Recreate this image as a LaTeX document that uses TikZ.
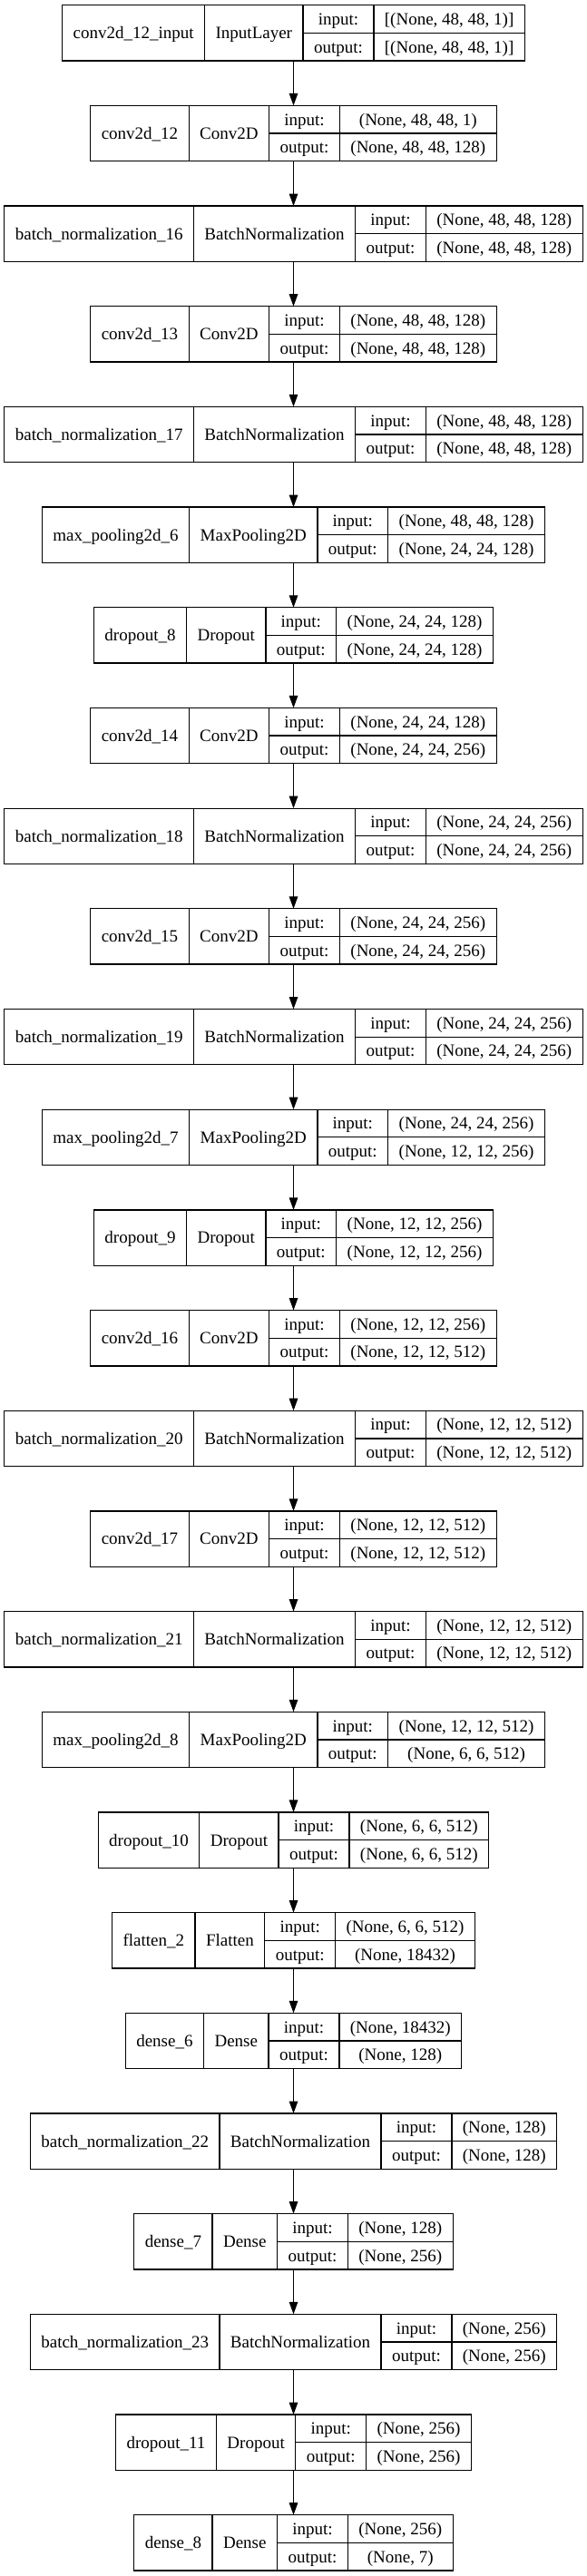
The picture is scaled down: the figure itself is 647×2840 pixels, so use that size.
\documentclass[tikz,border=0pt]{standalone}
\usepackage{fontspec}
\setmainfont{Liberation Serif}
\usetikzlibrary{arrows.meta}
\newdimen\lwa \newdimen\lwb \newdimen\lwc \newdimen\lwd \newdimen\lwt \newdimen\lws
\newdimen\lxA \newdimen\lxB \newdimen\lxC \newdimen\lxD \newdimen\lxE
\newdimen\lca \newdimen\lcb \newdimen\lcc \newdimen\lcd
\newcommand\lytxt[1]{\normalfont\fontsize{19}{22}\selectfont #1}
\tikzset{
  boxline/.style={draw=black, line width=1.3pt},
  layerbox/.style={boxline, rectangle, inner sep=0pt, outer sep=0pt, minimum height=61.3pt},
  lbl/.style={inner sep=0pt, font=\fontsize{19}{22}\selectfont, text height=12.8pt, text depth=0pt, anchor=center},
  arr/.style={draw=black, line width=1.3pt, -{Triangle[length=13.5pt,width=9.5pt]}},
}
% #1 index, #2 layer name, #3 class, #4 input shape, #5 output shape
\newcommand\layer[5]{%
  \pgfinterruptpicture
  \setbox0=\hbox{\lytxt{#2}}\global\lwa=\wd0
  \setbox0=\hbox{\lytxt{#3}}\global\lwb=\wd0
  \setbox0=\hbox{\lytxt{output:}}\global\lwc=\wd0
  \setbox0=\hbox{\lytxt{#4}}\global\lwd=\wd0
  \setbox0=\hbox{\lytxt{#5}}\global\lwt=\wd0
  \endpgfinterruptpicture
  \ifdim\lwt>\lwd \lwd=\lwt \fi
  \advance\lwa by 24pt
  \advance\lwb by 24pt
  \advance\lwc by 24pt
  \advance\lwd by 24pt
  \lws=\dimexpr\lwa+\lwb+\lwc+\lwd\relax
  \lxA=\dimexpr323.5pt-\lws/2\relax
  \lxB=\dimexpr\lxA+\lwa\relax
  \lxC=\dimexpr\lxB+\lwb\relax
  \lxD=\dimexpr\lxC+\lwc\relax
  \lxE=\dimexpr\lxD+\lwd\relax
  \lca=\dimexpr(\lxA+\lxB)/2\relax
  \lcb=\dimexpr(\lxB+\lxC)/2\relax
  \lcc=\dimexpr(\lxC+\lxD)/2\relax
  \lcd=\dimexpr(\lxD+\lxE)/2\relax
  \pgfmathsetmacro\lyT{-(5.7+110.68*#1)}%
  \pgfmathsetmacro\lyM{\lyT-30.65}%
  \pgfmathsetmacro\lyBot{\lyT-61.3}%
  \pgfmathsetmacro\lyRa{\lyT-15.325}%
  \pgfmathsetmacro\lyRb{\lyT-45.975}%
  \node[layerbox, minimum width=\the\lws, anchor=north] (L#1) at (323.5pt,\lyT pt) {};
  \draw[boxline] (\the\lxB,\lyT pt) -- (\the\lxB,\lyBot pt);
  \draw[boxline] (\the\lxC,\lyT pt) -- (\the\lxC,\lyBot pt);
  \draw[boxline] (\the\lxD,\lyT pt) -- (\the\lxD,\lyBot pt);
  \draw[boxline] (\the\lxC,\lyM pt) -- (\the\lxE,\lyM pt);
  \node[lbl] (L#1n) at (\the\lca,\lyM pt) {#2};
  \node[lbl] (L#1c) at (\the\lcb,\lyM pt) {#3};
  \node[lbl] (L#1i) at (\the\lcc,\lyRa pt) {input:};
  \node[lbl] (L#1o) at (\the\lcc,\lyRb pt) {output:};
  \node[lbl] (L#1is) at (\the\lcd,\lyRa pt) {#4};
  \node[lbl] (L#1os) at (\the\lcd,\lyRb pt) {#5};
}
\begin{document}
\begin{tikzpicture}
\fill[white] (0pt,0pt) rectangle (647pt,-2840pt);
\useasboundingbox (0pt,0pt) rectangle (647pt,-2840pt);
\layer{0}{conv2d\_12\_input}{InputLayer}{[(None, 48, 48, 1)]}{[(None, 48, 48, 1)]}
\layer{1}{conv2d\_12}{Conv2D}{(None, 48, 48, 1)}{(None, 48, 48, 128)}
\layer{2}{batch\_normalization\_16}{BatchNormalization}{(None, 48, 48, 128)}{(None, 48, 48, 128)}
\layer{3}{conv2d\_13}{Conv2D}{(None, 48, 48, 128)}{(None, 48, 48, 128)}
\layer{4}{batch\_normalization\_17}{BatchNormalization}{(None, 48, 48, 128)}{(None, 48, 48, 128)}
\layer{5}{max\_pooling2d\_6}{MaxPooling2D}{(None, 48, 48, 128)}{(None, 24, 24, 128)}
\layer{6}{dropout\_8}{Dropout}{(None, 24, 24, 128)}{(None, 24, 24, 128)}
\layer{7}{conv2d\_14}{Conv2D}{(None, 24, 24, 128)}{(None, 24, 24, 256)}
\layer{8}{batch\_normalization\_18}{BatchNormalization}{(None, 24, 24, 256)}{(None, 24, 24, 256)}
\layer{9}{conv2d\_15}{Conv2D}{(None, 24, 24, 256)}{(None, 24, 24, 256)}
\layer{10}{batch\_normalization\_19}{BatchNormalization}{(None, 24, 24, 256)}{(None, 24, 24, 256)}
\layer{11}{max\_pooling2d\_7}{MaxPooling2D}{(None, 24, 24, 256)}{(None, 12, 12, 256)}
\layer{12}{dropout\_9}{Dropout}{(None, 12, 12, 256)}{(None, 12, 12, 256)}
\layer{13}{conv2d\_16}{Conv2D}{(None, 12, 12, 256)}{(None, 12, 12, 512)}
\layer{14}{batch\_normalization\_20}{BatchNormalization}{(None, 12, 12, 512)}{(None, 12, 12, 512)}
\layer{15}{conv2d\_17}{Conv2D}{(None, 12, 12, 512)}{(None, 12, 12, 512)}
\layer{16}{batch\_normalization\_21}{BatchNormalization}{(None, 12, 12, 512)}{(None, 12, 12, 512)}
\layer{17}{max\_pooling2d\_8}{MaxPooling2D}{(None, 12, 12, 512)}{(None, 6, 6, 512)}
\layer{18}{dropout\_10}{Dropout}{(None, 6, 6, 512)}{(None, 6, 6, 512)}
\layer{19}{flatten\_2}{Flatten}{(None, 6, 6, 512)}{(None, 18432)}
\layer{20}{dense\_6}{Dense}{(None, 18432)}{(None, 128)}
\layer{21}{batch\_normalization\_22}{BatchNormalization}{(None, 128)}{(None, 128)}
\layer{22}{dense\_7}{Dense}{(None, 128)}{(None, 256)}
\layer{23}{batch\_normalization\_23}{BatchNormalization}{(None, 256)}{(None, 256)}
\layer{24}{dropout\_11}{Dropout}{(None, 256)}{(None, 256)}
\layer{25}{dense\_8}{Dense}{(None, 256)}{(None, 7)}
\foreach \i in {0,...,24}{%
  \pgfmathtruncatemacro\j{\i+1}%
  \draw[arr] (L\i.south) -- (L\j.north);
}
\end{tikzpicture}
\end{document}
